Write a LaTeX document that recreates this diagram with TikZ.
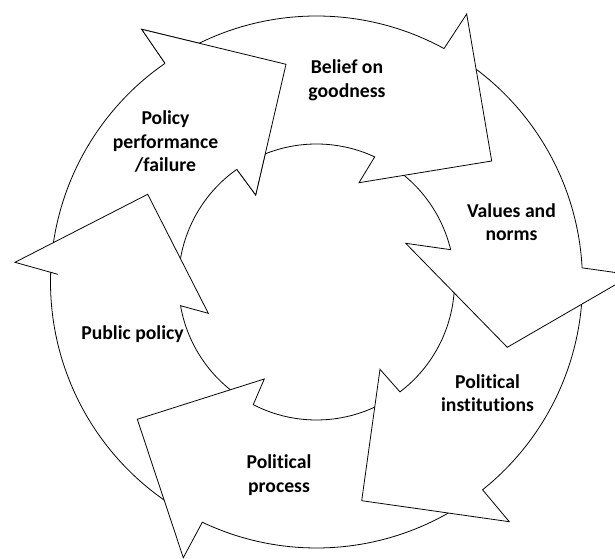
\documentclass[tikz,border=0pt]{standalone}
\usepackage{fontspec}
\setmainfont{Carlito}[Ligatures=NoCommon]
\usepackage{tikz}

\begin{document}
\begin{tikzpicture}[
    cyc/.style={draw=black, fill=white, line width=0.45pt},
    lbl/.style={align=center, font=\fontsize{11.2}{13.4}\selectfont\bfseries}
]
\clip (-6.33,-5.54) rectangle (5.97,5.64);

% Circular arrows, drawn so that each head lies over the next tail
\draw[cyc] (175:5.32) arc[start angle=175, end angle=124.71, radius=5.32] -- (-3.496,5.054) -- (-0.61,4.354) -- (-1.216,1.74) -- (125.27:2.76) arc[start angle=125.27, end angle=175, radius=2.76] -- cycle;
\draw[cyc] (239:5.32) arc[start angle=239, end angle=177.9, radius=5.32] -- (-5.176,0.154) -- (-6.03,0.394) -- (-3.376,1.754) -- (-2.164,-0.626) -- (189.9:2.76) arc[start angle=189.9, end angle=239, radius=2.76] -- cycle;
\draw[cyc] (-56:5.32) arc[start angle=-56, end angle=-115.42, radius=5.32] -- (-2.664,-5.514) -- (-3.584,-2.746) -- (-1.044,-1.94) -- (-117.28:2.76) arc[start angle=-117.28, end angle=-56, radius=2.76] -- cycle;
\draw[cyc] (0:5.32) arc[start angle=0, end angle=-51.37, radius=5.32] -- (3.856,-4.794) -- (0.904,-4.374) -- (1.27,-1.746) -- (-52.78:2.76) arc[start angle=-52.78, end angle=0, radius=2.76] -- cycle;
\draw[cyc] (57:5.32) arc[start angle=57, end angle=3.05, radius=5.32] -- (6.318,0.142) -- (3.816,-1.306) -- (1.784,0.774) -- (13.54:2.76) arc[start angle=13.54, end angle=57, radius=2.76] -- cycle;
\draw[cyc] (120:5.32) arc[start angle=120, end angle=61.35, radius=5.32] -- (3.004,5.36) -- (3.504,2.42) -- (0.85,1.986) -- (65.06:2.76) arc[start angle=65.06, end angle=120, radius=2.76] -- cycle;

% Head of the first arrow again, over the tail of the last one
\fill[white] (124.71:5.32) -- (-3.496,5.054) -- (-0.61,4.354) -- (-1.216,1.74) -- (125.27:2.76) -- cycle;
\draw[line width=0.45pt] (124.71:5.32) -- (-3.496,5.054) -- (-0.61,4.354) -- (-1.216,1.74) -- (125.27:2.76);

% Labels
\node[lbl] (belief) at (0.61,4.04) {Belief on\\goodness};
\node[lbl] (values) at (3.9,1.2) {Values and\\norms};
\node[lbl] (institutions) at (3.42,-2.22) {Political\\institutions};
\node[lbl] (process) at (-0.75,-3.86) {Political\\process};
\node[lbl] (publicpolicy) at (-3.68,-1.04) {Public policy};
\node[lbl] (performance) at (-3.02,2.8) {Policy\\performance\\/failure};

\end{tikzpicture}
\end{document}
